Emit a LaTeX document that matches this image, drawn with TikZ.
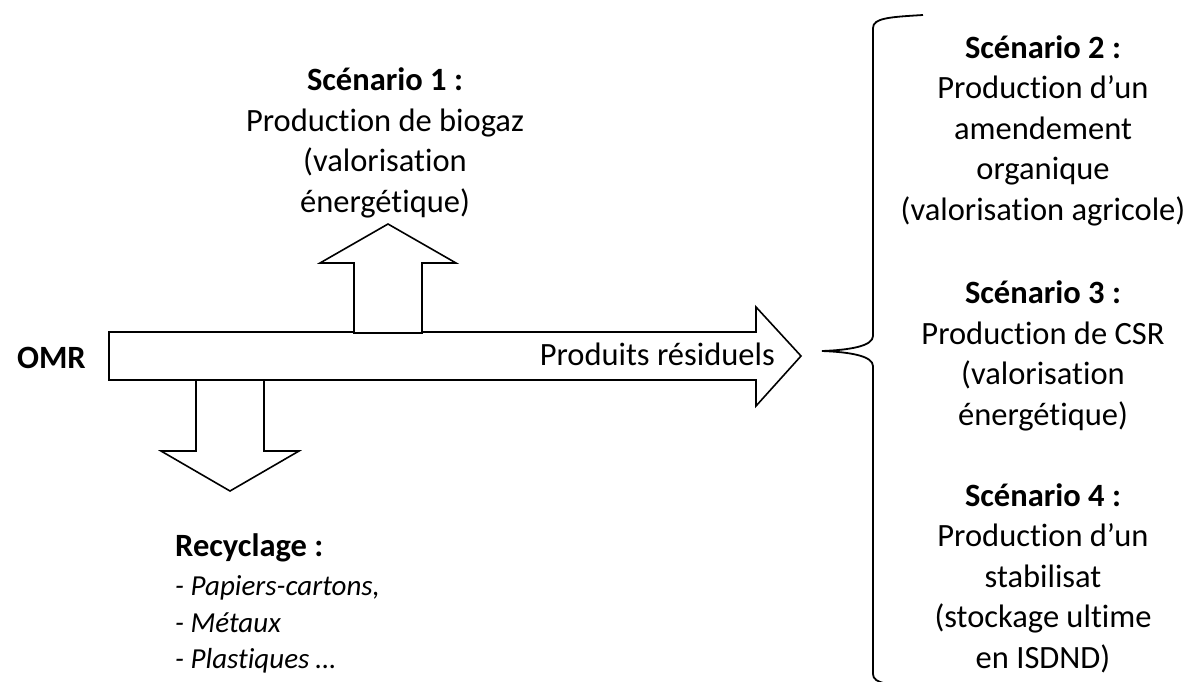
\documentclass[tikz,border=0pt]{standalone}
\usepackage{fontspec}
\setmainfont{Carlito}[Ligatures={NoCommon}]
\begin{document}
\begin{tikzpicture}[x=1pt,y=-1pt,
  shape line/.style={draw=black,fill=white,line width=1.6pt,line join=miter},
  big/.style={font=\fontsize{32.5}{40.5}\selectfont,inner sep=0pt,align=center},
  bigbold/.style={font=\fontsize{32.5}{40.5}\selectfont\bfseries,inner sep=0pt},
  small/.style={font=\fontsize{29}{36.5}\selectfont\itshape,inner sep=0pt,align=left},
  brace line/.style={draw=black,line width=1.8pt}]
\useasboundingbox[fill=white] (0,0) rectangle (1188,681);
% main arrow
\draw[shape line] (109,332) -- (756,332) -- (756,307) -- (801,356) -- (756,406) -- (756,380) -- (109,380) -- cycle;
% up arrow
\draw[shape line] (354,333) -- (354,263) -- (320,263) -- (388,224) -- (456,263) -- (422,263) -- (422,333) -- cycle;
% down arrow
\draw[shape line] (196,380) -- (196,451) -- (161,451) -- (230,491) -- (299,451) -- (264,451) -- (264,380) -- cycle;
% brace
\coordinate (btip) at (822,351);
\draw[brace line] (923,15) .. controls (890,17) and (873,18) .. (873,28) -- (873,336) .. controls (873,346) and (850,350) .. (btip)
  .. controls (850,352) and (873,356) .. (873,366) -- (873,674) .. controls (873,684) and (890,685) .. (923,687);
% texts (base anchor = baseline of the last line)
\node[bigbold,anchor=base east] (omr) at (86,368) {OMR};
\node[big,anchor=base east] (res) at (775,365) {Produits résiduels};
\node[big,anchor=base] (s1) at (385,212) {\textbf{Scénario 1 :}\\Production de biogaz\\(valorisation\\énergétique)};
\node[big,anchor=base] (s2) at (1043,220) {\textbf{Scénario 2 :}\\Production d’un\\amendement\\organique\\(valorisation agricole)};
\node[big,anchor=base] (s3) at (1043,425) {\textbf{Scénario 3 :}\\Production de CSR\\(valorisation\\énergétique)};
\node[big,anchor=base] (s4) at (1043,668) {\textbf{Scénario 4 :}\\Production d’un\\stabilisat\\(stockage ultime\\en ISDND)};
\node[bigbold,anchor=base west] (rec) at (175,556) {Recyclage :};
\node[small,anchor=base west] (r1) at (175,595) {- Papiers-cartons,};
\node[small,anchor=base west] (r2) at (175,632) {- Métaux};
\node[small,anchor=base west] (r3) at (175,668) {- Plastiques …};
\end{tikzpicture}
\end{document}
